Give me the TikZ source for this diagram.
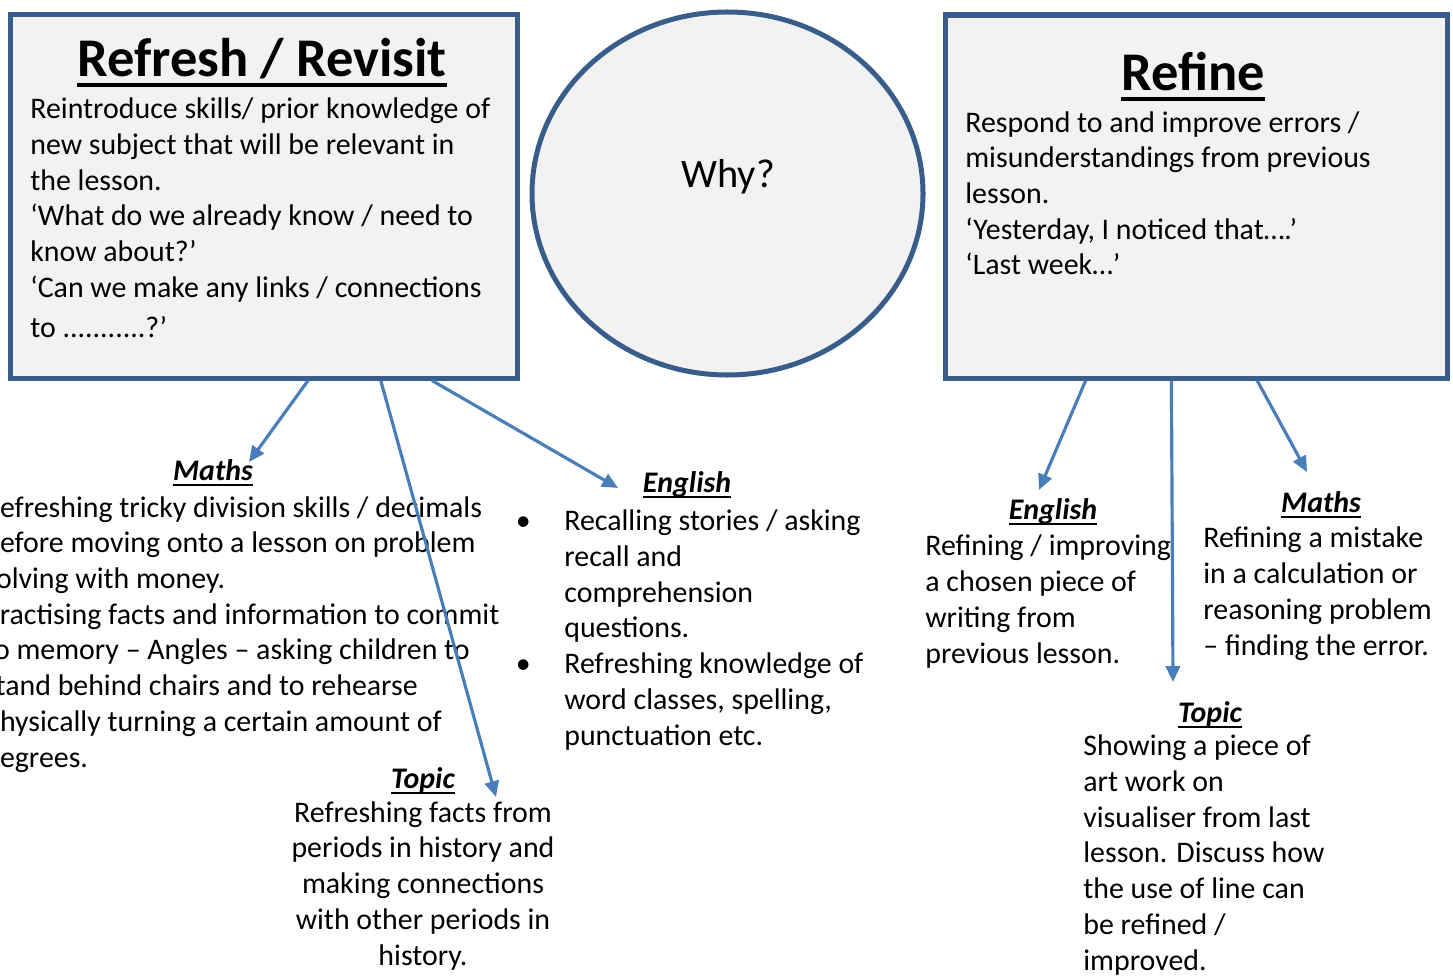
\documentclass[tikz,border=0pt]{standalone}
\usepackage{fontspec}
\setmainfont{Carlito}
\usetikzlibrary{arrows.meta,shapes.geometric,calc}

\definecolor{boxblue}{HTML}{385D8A}
\definecolor{arrowblue}{HTML}{4A7EBB}
\definecolor{panelgrey}{HTML}{F2F2F2}

\newcommand{\bodyfont}{\fontsize{17}{20.3}\selectfont}
\newcommand{\ulhead}[1]{\setbox0=\hbox{#1}\rlap{\rule[-3.2pt]{\wd0}{1.2pt}}\box0}
\newcommand{\ultitle}[1]{\setbox0=\hbox{#1}\rlap{\rule[-5.7pt]{\wd0}{2.3pt}}\box0}
\newcommand{\bull}{\llap{\makebox[46.6pt]{•}}}

\tikzset{
  panel/.style={draw=boxblue, line width=2.85pt, fill=panelgrey, inner sep=0pt, anchor=north west},
  link/.style={arrowblue, line width=1.8pt, -{Triangle[length=9pt,width=8pt]}},
  txt/.style={font=\bodyfont, inner sep=0pt, align=left, anchor=base west},
  subj/.style={font=\bodyfont\bfseries\itshape, inner sep=0pt, anchor=base},
  boxtitle/.style={font=\fontsize{31}{36}\selectfont\bfseries, inner sep=0pt, anchor=base},
}

\begin{document}
\begin{tikzpicture}[x=0.2mm, y=-0.2mm]
    \path[use as bounding box, clip] (0, 0) rectangle (1453, 976);
    % top row (text nodes sit on the baseline of their last line)
    \node[panel, minimum width=101.4mm, minimum height=72.7mm] (refresh) at (7.5, 12) {};
    \node[panel, ellipse, anchor=center, minimum width=78.2mm, minimum height=72.6mm] (why) at (727.5, 193.5) {};
    \node[panel, minimum width=100.5mm, minimum height=72.6mm] (refine) at (942.5, 12.5) {};
    \node[boxtitle] (refreshtitle) at (262, 77) {\ultitle{Refresh / Revisit}};
    \node[txt] (refreshtext) at (30, 338) {Reintroduce skills/ prior knowledge of\\ new subject that will be relevant in\\ the lesson.\\ ‘What do we already know / need to\\ know about?’\\ ‘Can we make any links / connections\\[3pt] to ...........?’};
    \node[font=\fontsize{23}{27}\selectfont, inner sep=0pt, anchor=base] (whytext) at (728, 188) {Why?};
    \node[boxtitle] (refinetitle) at (1193, 91) {\ultitle{Refine}};
    \node[txt] (refinetext) at (965, 275) {Respond to and improve errors /\\ misunderstandings from previous\\ lesson.\\ ‘Yesterday, I noticed that….’\\ ‘Last week…’};
    % refresh examples
    \node[subj] (mathsL) at (213, 480) {\ulhead{Maths}};
    \node[txt] (mathsLtext) at (-16, 767) {Refreshing tricky division skills / decimals\\ before moving onto a lesson on problem\\ solving with money.\\ Practising facts and information to commit\\ to memory – Angles – asking children to\\ stand behind chairs and to rehearse\\ physically turning a certain amount of\\ degrees.};
    \node[subj] (englishL) at (687, 492) {\ulhead{English}};
    \node[txt] (englishLtext) at (564, 745) {\bull Recalling stories / asking\\ recall and\\ comprehension\\ questions.\\ \bull Refreshing knowledge of\\ word classes, spelling,\\ punctuation etc.};
    \node[subj] (topicL) at (423, 788) {\ulhead{Topic}};
    \node[txt, align=center, anchor=base] (topicLtext) at (423, 965) {Refreshing facts from\\ periods in history and\\ making connections\\ with other periods in\\ history.};
    % refine examples
    \node[subj] (englishR) at (1053, 519) {\ulhead{English}};
    \node[txt] (englishRtext) at (925, 663) {Refining / improving\\ a chosen piece of\\ writing from\\ previous lesson.};
    \node[subj] (mathsR) at (1321, 512) {\ulhead{Maths}};
    \node[txt] (mathsRtext) at (1203, 655) {Refining a mistake\\ in a calculation or\\ reasoning problem\\ – finding the error.};
    \node[subj] (topicR) at (1210, 722) {\ulhead{Topic}};
    \node[txt] (topicRtext) at (1083, 970) {Showing a piece of\\ art work on\\ visualiser from last\\ lesson. Discuss how\\ the use of line can\\ be refined /\\ improved.};
    % arrow ends
    \coordinate (tipmathsL) at (249, 462);
    \coordinate (tiptopicL) at (496, 797);
    \coordinate (tipenglishL) at (618, 488);
    \coordinate (tipenglishR) at (1039, 490);
    \coordinate (tiptopicR) at (1173, 682);
    \coordinate (tipmathsR) at (1307, 472);
    \draw[link] ($(refresh.south west)!0.587!(refresh.south east)$) -- (tipmathsL);
    \draw[link] ($(refresh.south west)!0.729!(refresh.south east)$) -- (tiptopicL);
    \draw[link] ($(refresh.south west)!0.829!(refresh.south east)$) -- (tipenglishL);
    \draw[link] ($(refine.south west)!0.282!(refine.south east)$) -- (tipenglishR);
    \draw[link] ($(refine.south west)!0.451!(refine.south east)$) -- (tiptopicR);
    \draw[link] ($(refine.south west)!0.620!(refine.south east)$) -- (tipmathsR);
\end{tikzpicture}
\end{document}
